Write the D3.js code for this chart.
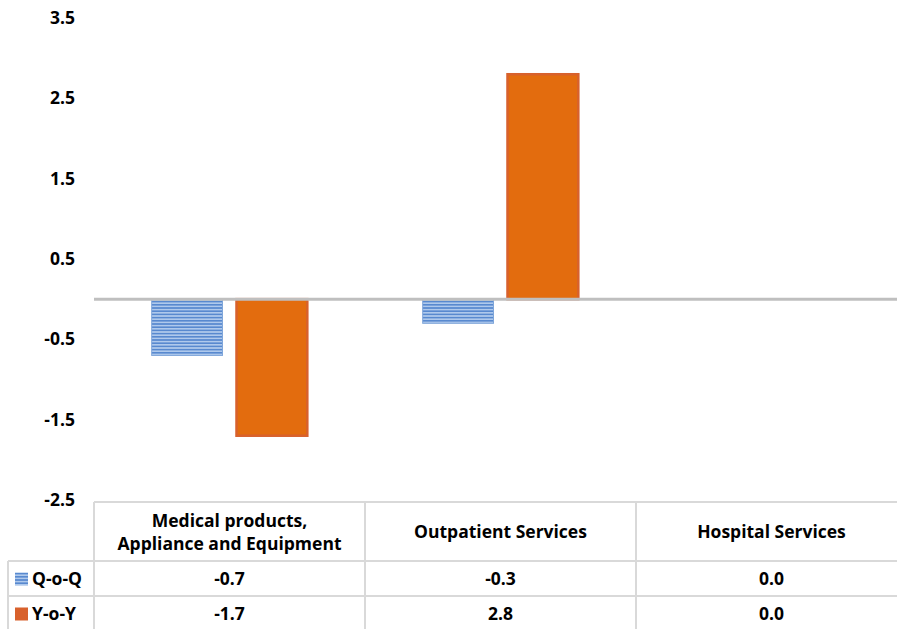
<!DOCTYPE html>
<html>
<head>
<meta charset="utf-8">
<script src="https://cdn.jsdelivr.net/npm/d3@7"></script>
<style>
  html, body { margin: 0; padding: 0; background: #fff; }
  svg { display: block; }
  text { font-family: "Open Sans", Lato, sans-serif; font-weight: 700; fill: #000; }
</style>
</head>
<body>
<svg id="chart" width="897" height="629"></svg>
<script>
const categories = [["Medical products,", "Appliance and Equipment"], ["Outpatient Services"], ["Hospital Services"]];
const seriesNames = ["Q-o-Q", "Y-o-Y"];
const qoq = [-0.7, -0.3, 0.0];
const yoy = [-1.7, 2.8, 0.0];
const yTicks = [3.5, 2.5, 1.5, 0.5, -0.5, -1.5, -2.5];

const W = 897, H = 629;
const FS = "17.5px";
const fmt = v => d3.format(".1f")(v).replace("\u2212", "-");
const svg = d3.select("#chart");
const defs = svg.append("defs");

const pat = defs.append("pattern").attr("id", "stripes")
  .attr("patternUnits", "userSpaceOnUse").attr("width", 8).attr("height", 3.2);
pat.append("rect").attr("width", 8).attr("height", 3.2).attr("fill", "#AFC9EC");
pat.append("rect").attr("width", 8).attr("height", 1.6).attr("fill", "#5889CF");

const left = 94, colW = 271;
const y = d3.scaleLinear().domain([-2.5, 3.5]).range([500, 18]);
const x0 = d3.scaleBand().domain(d3.range(categories.length)).range([left, left + colW * 3]).paddingInner(0).paddingOuter(0);
const x1 = d3.scaleBand().domain(seriesNames).range([0, colW]).paddingInner(0.165).paddingOuter(0.68);

// y axis labels
const yAxis = d3.axisLeft(y).tickValues(yTicks).tickFormat(fmt).tickSize(0).tickPadding(0);
const ga = svg.append("g").attr("transform", "translate(75,0)").call(yAxis);
ga.select(".domain").remove();
ga.selectAll("text").style("font-size", FS).style("font-family", "'Open Sans', sans-serif").style("font-weight", "700").attr("fill", "#000");

// bars
const data = categories.map((c, i) => ({ i, vals: [qoq[i], yoy[i]] }));
const gCat = svg.append("g").selectAll("g").data(data).join("g")
  .attr("transform", d => `translate(${x0(d.i)},0)`);
gCat.selectAll("rect").data(d => d.vals.map((v, k) => ({ v, k })).filter(e => e.v !== 0)).join("rect")
  .attr("x", e => x1(seriesNames[e.k]))
  .attr("width", x1.bandwidth())
  .attr("y", e => Math.min(y(e.v), y(0)))
  .attr("height", e => Math.abs(y(e.v) - y(0)))
  .attr("fill", e => e.k === 0 ? "url(#stripes)" : "#E36C0E")
  .attr("stroke", e => e.k === 0 ? "#7FA6DA" : "#D8612C")
  .attr("stroke-width", e => e.k === 0 ? 1 : 2.5);

// zero line
svg.append("line").attr("x1", left).attr("x2", W).attr("y1", y(0)).attr("y2", y(0))
  .attr("stroke", "#BFBFBF").attr("stroke-width", 3);

// data table
const grid = "#D9D9D9";
const tTop = 502, r1 = 561, r2 = 596, tBot = 640, legL = 8;
const tg = svg.append("g").attr("stroke", grid).attr("stroke-width", 2);
tg.append("line").attr("x1", left).attr("x2", W).attr("y1", tTop).attr("y2", tTop);
tg.append("line").attr("x1", legL).attr("x2", W).attr("y1", r1).attr("y2", r1);
tg.append("line").attr("x1", legL).attr("x2", W).attr("y1", r2).attr("y2", r2);
tg.append("line").attr("x1", legL).attr("x2", legL).attr("y1", r1).attr("y2", tBot);
d3.range(categories.length + 1).forEach(i => {
  const xx = left + colW * i;
  tg.append("line").attr("x1", xx).attr("x2", xx).attr("y1", tTop).attr("y2", tBot);
});

// header labels
categories.forEach((c, i) => {
  const cx = x0(i) + colW / 2;
  const lh = 23;
  const startY = 532 - (c.length - 1) * lh / 2;
  c.forEach((line, j) => {
    svg.append("text").attr("x", cx).attr("y", startY + j * lh + 6)
      .attr("text-anchor", "middle").style("font-size", FS).text(line);
  });
});

// rows
const rows = [qoq, yoy];
const rowY = [579, 614];
rows.forEach((vals, r) => {
  vals.forEach((v, i) => {
    svg.append("text").attr("x", x0(i) + colW / 2).attr("y", rowY[r] + 6)
      .attr("text-anchor", "middle").style("font-size", FS).text(fmt(v));
  });
  svg.append("rect").attr("x", 15).attr("y", rowY[r] - 6.5).attr("width", 13).attr("height", 13)
    .attr("fill", r === 0 ? "url(#stripes)" : "#D8612C");
  svg.append("text").attr("x", 32).attr("y", rowY[r] + 6).style("font-size", FS).text(seriesNames[r]);
});
</script>
</body>
</html>
